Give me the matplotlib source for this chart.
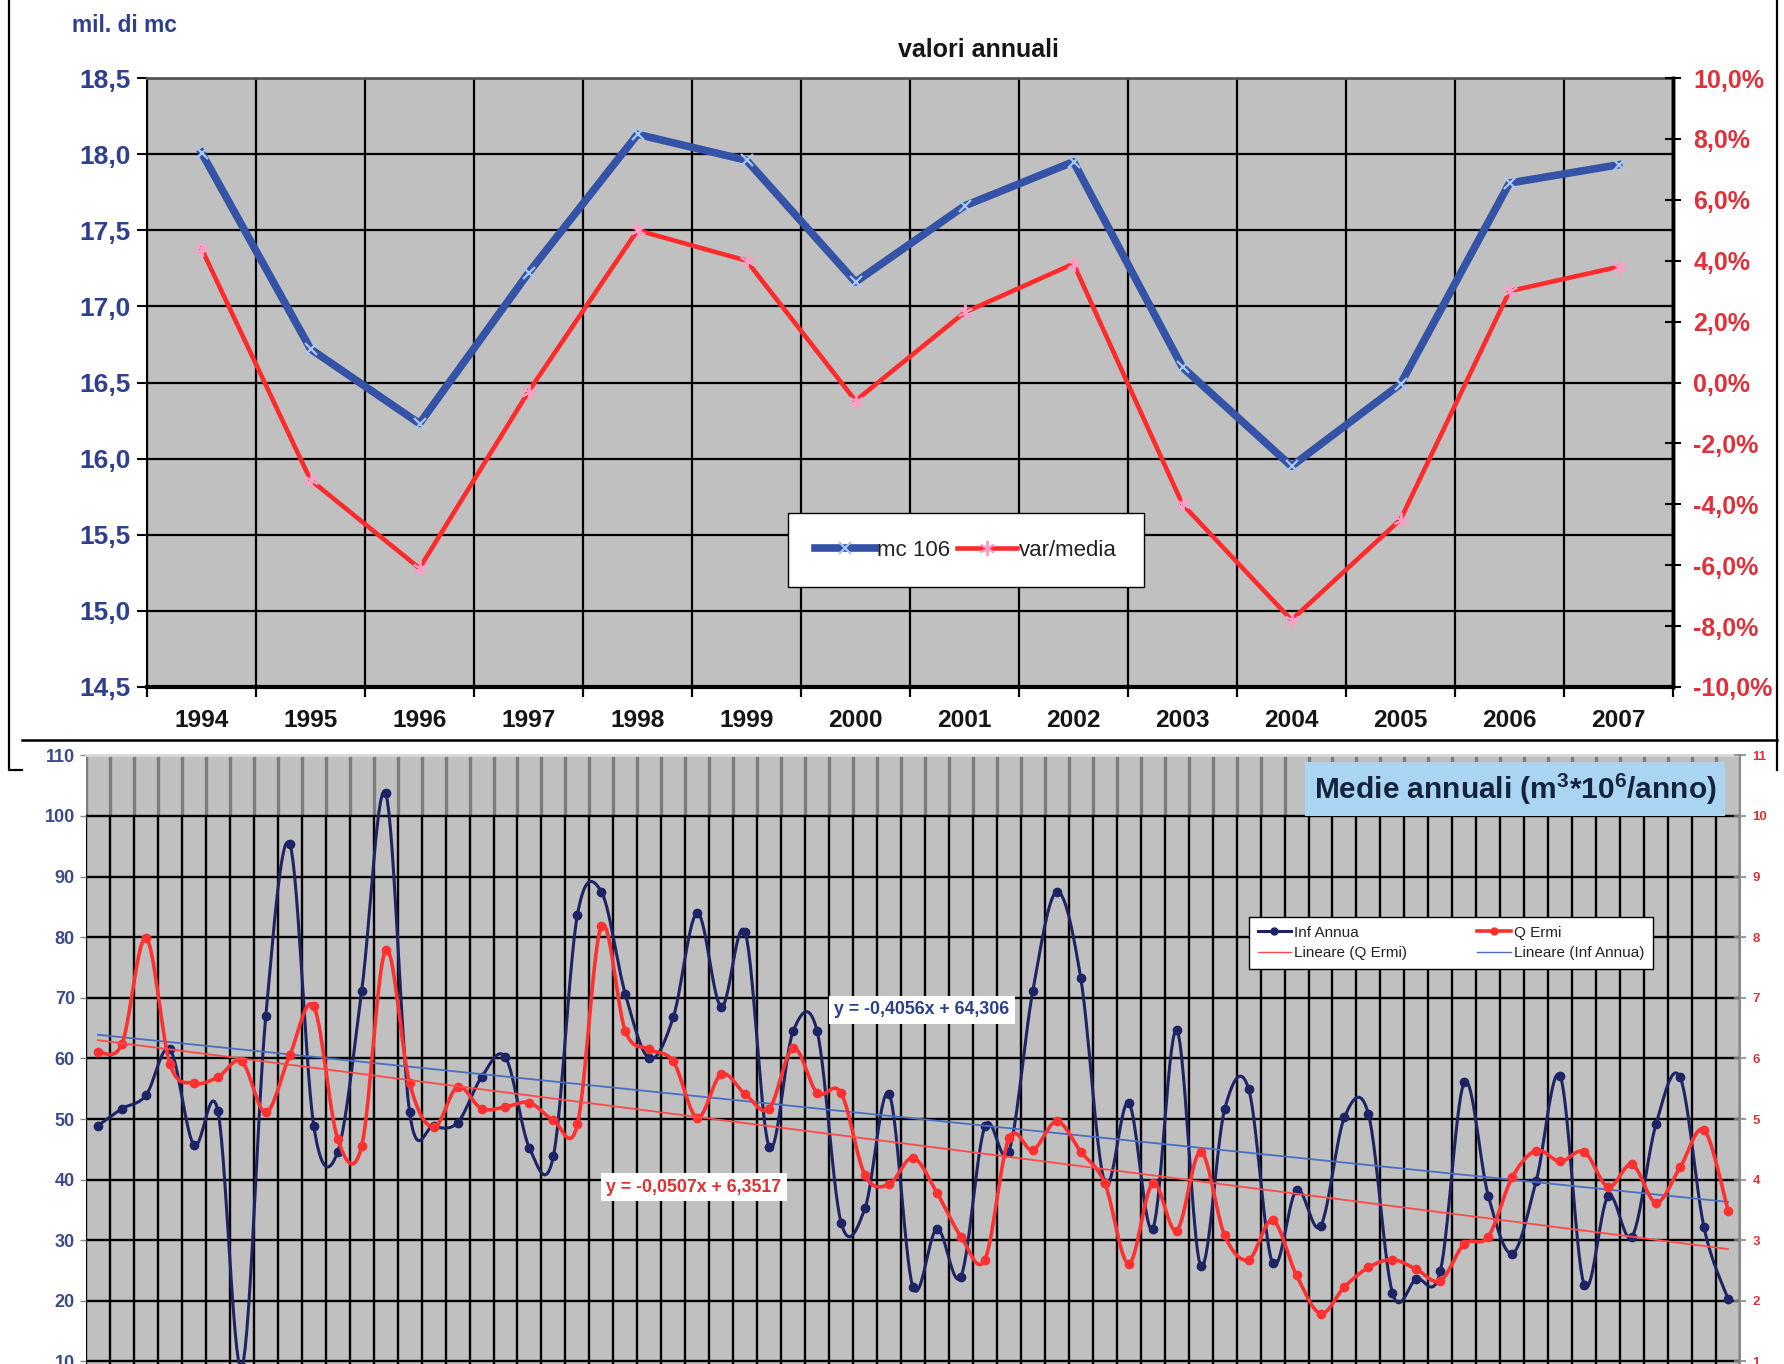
import numpy as np
import matplotlib
matplotlib.use("Agg")
import matplotlib.pyplot as plt
from matplotlib import font_manager
from matplotlib.lines import Line2D
from matplotlib.ticker import FuncFormatter

# ---------------- top panel: annual volumes ----------------
years = ["1994", "1995", "1996", "1997", "1998", "1999", "2000",
         "2001", "2002", "2003", "2004", "2005", "2006", "2007"]
mc_106 = [18.01, 16.72, 16.23, 17.22, 18.13, 17.96, 17.16,
          17.66, 17.95, 16.60, 15.95, 16.49, 17.81, 17.93]
var_media_pct = [4.4, -3.2, -6.1, -0.3, 5.0, 4.0, -0.6,
                 2.3, 3.9, -4.0, -7.8, -4.5, 3.0, 3.8]
top_left_ticks = [14.5, 15.0, 15.5, 16.0, 16.5, 17.0, 17.5, 18.0, 18.5]
top_right_ticks = [-10, -8, -6, -4, -2, 0, 2, 4, 6, 8, 10]

# ---------------- bottom panel: yearly means ----------------
inf_annua = [48.9, 51.7, 53.9, 61.5, 45.7, 51.4, 9.0, 67.0, 95.4, 48.9,
             44.6, 71.1, 103.8, 51.1, 48.8, 49.4, 56.9, 60.2, 45.2, 43.9,
             83.7, 87.5, 70.6, 60.0, 66.8, 84.0, 68.5, 80.8, 45.4, 64.5,
             64.5, 32.9, 35.3, 54.2, 22.2, 31.9, 24.0, 48.8, 44.6, 71.2,
             87.5, 73.2, 39.5, 52.7, 31.9, 64.7, 25.8, 51.6, 55.0, 26.2,
             38.3, 32.3, 50.3, 50.8, 21.3, 23.6, 24.9, 56.1, 37.3, 27.8,
             39.8, 57.1, 22.6, 37.3, 30.6, 49.2, 56.9, 32.1, 20.3]
q_ermi = [6.11, 6.24, 7.99, 5.91, 5.59, 5.69, 5.95, 5.11, 6.05, 6.86,
          4.67, 4.55, 7.79, 5.59, 4.86, 5.53, 5.17, 5.20, 5.27, 4.98,
          4.91, 8.19, 6.45, 6.15, 5.95, 5.02, 5.74, 5.41, 5.17, 6.17,
          5.43, 5.43, 4.07, 3.92, 4.36, 3.78, 3.06, 2.68, 4.68, 4.49,
          4.96, 4.46, 3.94, 2.61, 3.94, 3.16, 4.46, 3.08, 2.68, 3.33,
          2.42, 1.79, 2.23, 2.55, 2.68, 2.52, 2.33, 2.94, 3.06, 4.04,
          4.48, 4.30, 4.46, 3.88, 4.25, 3.62, 4.20, 4.82, 3.49]
trend_inf = (-0.4056, 64.306)     # slope, intercept (left axis)
trend_q = (-0.0507, 6.3517)       # slope, intercept (right axis)
bottom_left_ticks = [10, 20, 30, 40, 50, 60, 70, 80, 90, 100, 110]
bottom_right_ticks = [1, 2, 3, 4, 5, 6, 7, 8, 9, 10, 11]

# ---------------- fonts ----------------
names = {f.name for f in font_manager.fontManager.ttflist}
SANS = ["Liberation Sans", "DejaVu Sans"]
if "Liberation Sans Narrow" in names:
    NARROW, NSCALE = ["Liberation Sans Narrow", "Liberation Sans", "DejaVu Sans"], 1.0
else:
    NARROW, NSCALE = SANS, 0.82
plt.rcParams["font.family"] = SANS
plt.rcParams["mathtext.fontset"] = "custom"
plt.rcParams["mathtext.rm"] = "Liberation Sans:bold"
plt.rcParams["mathtext.bf"] = "Liberation Sans:bold"
plt.rcParams["mathtext.it"] = "Liberation Sans:bold"

W, H, DPI = 1784, 1364, 100
fig = plt.figure(figsize=(W / DPI, H / DPI), dpi=DPI)
fig.patch.set_facecolor("white")


def rect(x0, y0, x1, y1):
    return [x0 / W, 1 - y1 / H, (x1 - x0) / W, (y1 - y0) / H]


def fline(xs, ys, **kw):
    fig.add_artist(Line2D([x / W for x in xs], [1 - y / H for y in ys],
                          transform=fig.transFigure, **kw))


def comma(fmt):
    return FuncFormatter(lambda v, p: format(v, fmt).replace(".", ","))


def smooth(xs, ys, steps=14):
    """Catmull-Rom curve through the points (spreadsheet-style smoothing)."""
    xs = np.asarray(xs, float)
    ys = np.asarray(ys, float)
    px = np.concatenate([[xs[0]], xs, [xs[-1]]])
    py = np.concatenate([[ys[0]], ys, [ys[-1]]])
    t = np.linspace(0, 1, steps, endpoint=False)
    ox, oy = [], []
    for i in range(len(xs) - 1):
        for p, out in ((px, ox), (py, oy)):
            p0, p1, p2, p3 = p[i], p[i + 1], p[i + 2], p[i + 3]
            out.extend(0.5 * (2 * p1 + (-p0 + p2) * t
                              + (2 * p0 - 5 * p1 + 4 * p2 - p3) * t ** 2
                              + (-p0 + 3 * p1 - 3 * p2 + p3) * t ** 3))
    ox.append(xs[-1])
    oy.append(ys[-1])
    return np.array(ox), np.array(oy)


NAVY = "#2e3f8f"
RED_LBL = "#e0303a"

# ================= top panel =================
ax1 = fig.add_axes(rect(147, 78, 1673, 687))
ax1.set_facecolor("#c0c0c0")
xi = np.arange(len(years))
ax1.set_xlim(-0.5, len(years) - 0.5)
ax1.set_ylim(top_left_ticks[0], top_left_ticks[-1])
ax1.set_yticks(top_left_ticks)
ax1.yaxis.set_major_formatter(comma(".1f"))
ax1.set_xticks(xi)
ax1.set_xticklabels(years)
ax1.set_xticks(np.arange(-0.5, len(years)), minor=True)
ax1.grid(axis="y", which="major", color="black", lw=1.6)
ax1.grid(axis="x", which="minor", color="black", lw=1.6)
ax1.set_axisbelow(True)
ax1.tick_params(axis="x", which="major", length=0, pad=16)
ax1.tick_params(axis="x", which="minor", length=7, width=1.6, direction="out")
ax1.tick_params(axis="y", length=7, width=1.5, direction="out", pad=5,
                labelcolor=NAVY, labelsize=19)
for lab in ax1.get_yticklabels():
    lab.set_fontweight("bold")
for lab in ax1.get_xticklabels():
    lab.set_fontweight("bold")
    lab.set_fontfamily(NARROW)
    lab.set_fontsize(21.5 * NSCALE)
    lab.set_color("#151515")
ax1.spines["bottom"].set_linewidth(3)
ax1.spines["left"].set_linewidth(1.5)
ax1.spines["top"].set_color("#555555")
ax1.spines["top"].set_linewidth(2)
ax1.spines["right"].set_linewidth(2.5)

line_mc, = ax1.plot(xi, mc_106, color="#3452a6", lw=5.5, marker="x", ms=9,
                    mec="#a9c8f0", mew=1.6, zorder=3, solid_joinstyle="round")

ax1r = ax1.twinx()
ax1r.set_ylim(top_right_ticks[0], top_right_ticks[-1])
ax1r.set_yticks(top_right_ticks)
ax1r.yaxis.set_major_formatter(FuncFormatter(lambda v, p: f"{v:.1f}%".replace(".", ",")))
ax1r.tick_params(axis="y", length=11, width=1.5, direction="inout", pad=9,
                 labelcolor=RED_LBL, labelsize=18)
for lab in ax1r.get_yticklabels():
    lab.set_fontweight("bold")
for s in ("top", "bottom", "left"):
    ax1r.spines[s].set_visible(False)
ax1r.spines["right"].set_linewidth(2.5)
line_var, = ax1r.plot(xi, var_media_pct, color="#ff2a2a", lw=3.3,
                      marker=(6, 2, 0), ms=11, mec="#ff9cc8", mew=1.4,
                      zorder=3, solid_joinstyle="round")

fig.legend([line_mc, line_var], ["mc 106", "var/media"], loc="center",
           bbox_to_anchor=(966 / W, 1 - 550 / H), ncol=2, fontsize=16,
           frameon=True, fancybox=False, edgecolor="black", framealpha=1,
           handlelength=2.7, handletextpad=0.1, columnspacing=0.3,
           borderpad=1.2, labelcolor="#222222")

fig.text(124 / W, 1 - 25 / H, "mil. di mc", ha="center", va="center",
         color=NAVY, fontsize=20 * NSCALE, fontweight="bold", family=NARROW)
fig.text(978 / W, 1 - 50 / H, "valori annuali", ha="center", va="center",
         color="#151515", fontsize=22 * NSCALE, fontweight="bold", family=NARROW)

# ================= bottom panel =================
ax2 = fig.add_axes(rect(86, 755.4, 1740, 1422))
ax2.set_facecolor("#c0c0c0")
n = np.arange(1, len(inf_annua) + 1)
ax2.set_xlim(0.5, len(n) + 0.5)
ax2.set_ylim(0, 110)
edges = np.arange(0.5, len(n) + 1)
ax2.vlines(edges, 0, 100, colors="black", lw=1.7, zorder=1)
ax2.vlines(edges, 100, 110, colors="#7c7c7c", lw=2.4, zorder=1)
ax2.hlines(bottom_left_ticks[:-1], 0.5, len(n) + 0.5, colors="black", lw=1.7, zorder=1)
ax2.set_xticks([])
ax2.set_yticks(bottom_left_ticks)
ax2.tick_params(axis="y", length=4, width=1, color="#888888", pad=4,
                labelcolor="#3b4a8c", labelsize=13)
for lab in ax2.get_yticklabels():
    lab.set_fontweight("bold")
for s in ("left", "bottom"):
    ax2.spines[s].set_visible(False)
ax2.spines["top"].set_color("#d8d8d8")
ax2.spines["top"].set_linewidth(2)
ax2.spines["right"].set_visible(False)

sx, sy = smooth(n, inf_annua)
ax2.plot(sx, sy, color="#1c2466", lw=2.2, zorder=3)
ax2.plot(n, inf_annua, "o", color="#1c2466", ms=6, zorder=3)
ti = trend_inf[0] * n + trend_inf[1]
ax2.plot(n, ti, color="#4a6fc0", lw=1.3, zorder=5)

ax2r = ax2.twinx()
ax2r.set_ylim(0, 11)
ax2r.set_yticks(bottom_right_ticks)
ax2r.tick_params(axis="y", length=8, width=1.2, color="#888888",
                 direction="inout", pad=5, labelcolor=RED_LBL, labelsize=9.5)
for lab in ax2r.get_yticklabels():
    lab.set_fontweight("bold")
for s in ("left", "bottom", "top"):
    ax2r.spines[s].set_visible(False)
ax2r.spines["right"].set_color("#8a8a8a")
ax2r.spines["right"].set_linewidth(1.5)
qx, qy = smooth(n, q_ermi)
ax2r.plot(qx, qy, color="#ff3030", lw=2.6, zorder=3)
ax2r.plot(n, q_ermi, "o", color="#ff3030", ms=6, zorder=3)
tq = trend_q[0] * n + trend_q[1]
ax2r.plot(n, tq, color="#ff4a4a", lw=1.3, zorder=5)

fig.text(1515 / W, 1 - 789 / H, r"Medie annuali (m$^{3}$*10$^{6}$/anno)",
         ha="center", va="center", fontsize=21.5, fontweight="bold",
         color="#14233b",
         bbox=dict(boxstyle="square,pad=0.3", fc="#a9d5f2", ec="none"))

h_inf = Line2D([], [], color="#1c2466", lw=2.2, marker="o", ms=5)
h_q = Line2D([], [], color="#ff3030", lw=2.6, marker="o", ms=5)
h_tq = Line2D([], [], color="#ff4a4a", lw=1.0)
h_ti = Line2D([], [], color="#4a6fc0", lw=1.0)
fig.legend([h_inf, h_tq, h_q, h_ti],
           ["Inf Annua", "Lineare (Q Ermi)", "Q Ermi", "Lineare (Inf Annua)"],
           loc="center", bbox_to_anchor=(1451 / W, 1 - 943 / H), ncol=2,
           fontsize=11, frameon=True, fancybox=False, edgecolor="black",
           framealpha=1, handlelength=2.2, handletextpad=0.2,
           columnspacing=4.6, borderpad=0.55, labelspacing=0.45,
           labelcolor="#222222")


def eq(a, b, nb):
    return (f"y = {a:.4f}x + {b:.{nb}f}").replace(".", ",")


fig.text(922 / W, 1 - 1010 / H, eq(*trend_inf, 3), ha="center", va="center",
         fontsize=12.8, fontweight="bold", color="#2b3f8c",
         bbox=dict(boxstyle="square,pad=0.3", fc="white", ec="none"))
fig.text(694 / W, 1 - 1187 / H, eq(*trend_q, 4), ha="center", va="center",
         fontsize=12.8, fontweight="bold", color="#e03030",
         bbox=dict(boxstyle="square,pad=0.3", fc="white", ec="none"))

# page frame lines
fline([9, 9, 22], [0, 770, 770], color="black", lw=1.6)
fline([22, 1777], [740, 740], color="black", lw=1.8)
fline([1777, 1777], [0, 770], color="black", lw=1.6)

fig.savefig("out.png", dpi=DPI, facecolor="white")
